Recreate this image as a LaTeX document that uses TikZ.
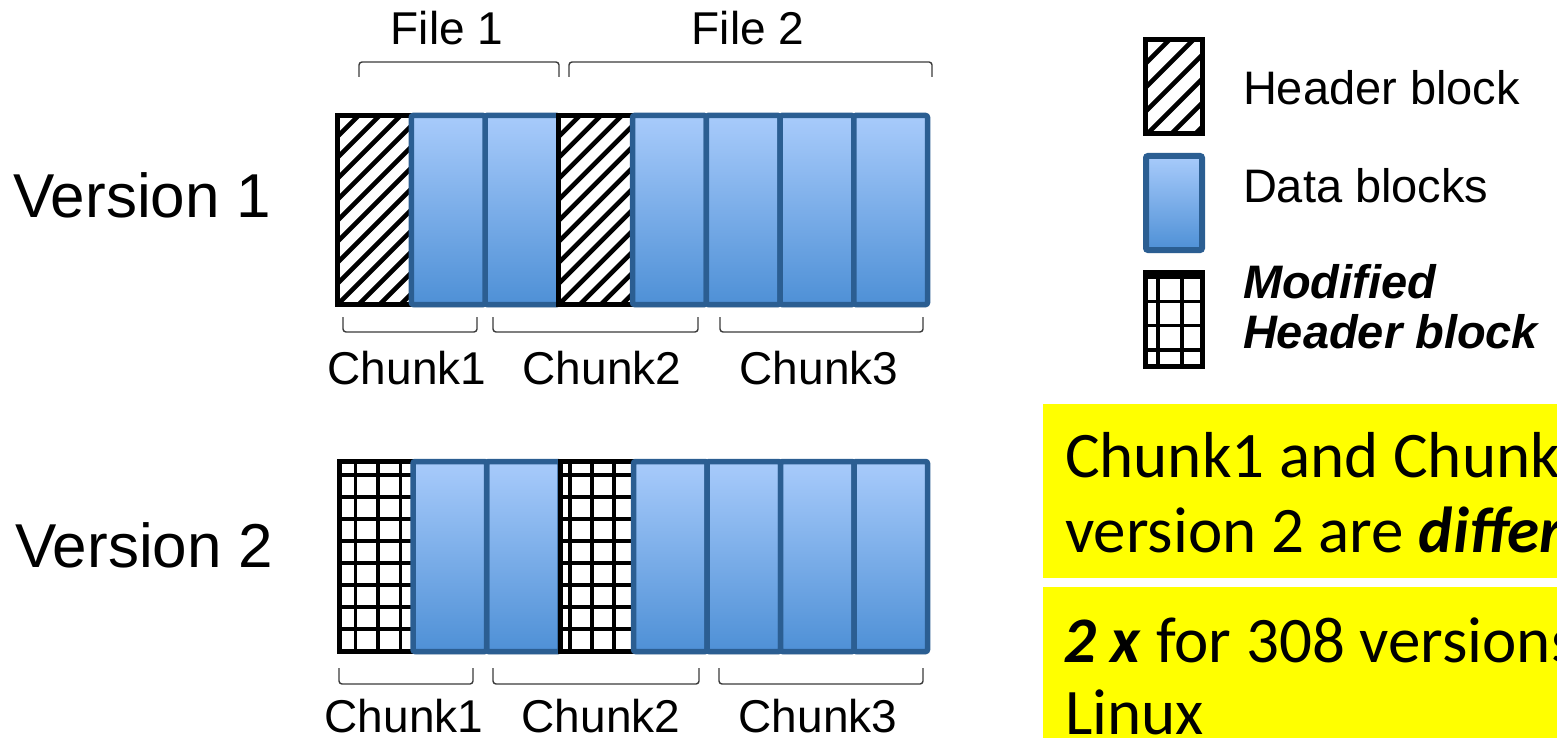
\documentclass[tikz,border=0pt]{standalone}
\usepackage{fontspec}
\setmainfont{Liberation Sans}
\newfontfamily\calib{Carlito}
\usetikzlibrary{shadows,calc}
\definecolor{dborder}{HTML}{2B5E92}
\definecolor{dtop}{HTML}{A8CBFB}
\definecolor{dbot}{HTML}{4E90D6}
\definecolor{brk}{HTML}{3A3A3A}
\definecolor{ybox}{HTML}{FFFF00}
\tikzset{
  blk/.style={rectangle, inner sep=0pt, outer sep=0pt},
  datablk/.style={blk, draw=dborder, line width=5.5pt, rounded corners=2pt,
    top color=dtop, bottom color=dbot,
    drop shadow={opacity=0.18, shadow xshift=1pt, shadow yshift=-3pt}},
  hatchblk/.style={blk, draw=black, line width=5pt, fill=white,
    path picture={\foreach \k in {0,...,22}{\draw[line width=4.6pt]
      ([xshift=-50pt,yshift={-(50+#1*\k)*1pt}]path picture bounding box.north west) -- ++(500,-500);}}},
  gridblk/.style n args={4}{blk, draw=black, line width=5pt, fill=white,
    path picture={\foreach \k in {0,...,10}{
      \draw[line width=3.2pt] ([xshift={(#1+#2*\k)*1pt}]path picture bounding box.north west) -- ++(0,400);
      \draw[line width=3.2pt] ([yshift={-(#3+#4*\k)*1pt}]path picture bounding box.north west) -- ++(400,0);}}},
  bracket/.style={draw=brk, line width=1.4pt, rounded corners=3pt},
  lbl/.style={inner sep=0pt, outer sep=0pt, anchor=base, text depth=0pt},
  lblw/.style={inner sep=0pt, outer sep=0pt, anchor=base west},
  bigfont/.style={font=\fontsize{62}{70}\selectfont},
  chunkfont/.style={font=\fontsize{46}{52}\selectfont},
  legfont/.style={font=\fontsize{47}{56}\selectfont},
  notefont/.style={font=\calib\fontsize{65}{75}\selectfont},
  notebox/.style={fill=ybox, inner sep=0pt, outer sep=0pt, anchor=north west}
}
\begin{document}
\begin{tikzpicture}[x=1pt,y=-1pt]
\useasboundingbox (0,0) rectangle (1557,738);
\clip (0,0) rectangle (1557,738);

% ---------- Version labels ----------
\node[lblw, bigfont] (ver1) at (13,217) {Version 1};
\node[lblw, bigfont] (ver2) at (15,567) {Version 2};

% ---------- File labels and brackets ----------
\node[lbl, chunkfont] (file1) at (447,45) {File 1};
\node[lbl, chunkfont] (file2) at (748,45) {File 2};
\draw[bracket] (359,77) -- (359,62) -- (559,62) -- (559,77);
\draw[bracket] (569,77) -- (569,62) -- (932,62) -- (932,77);

% ---------- Version 1 blocks ----------
\node[hatchblk=21, minimum width=73.75pt, minimum height=189pt] (v1h1) at (374.375,210) {};
\node[datablk, minimum width=73.75pt, minimum height=189pt] (v1d2) at (521.875,210) {};
\node[hatchblk=21, minimum width=73.75pt, minimum height=189pt] (v1h2) at (595.625,210) {};
\node[datablk, minimum width=73.75pt, minimum height=189pt] (v1d1) at (448.125,210) {};
\node[datablk, minimum width=73.75pt, minimum height=189pt] (v1d3) at (669.375,210) {};
\node[datablk, minimum width=73.75pt, minimum height=189pt] (v1d4) at (743.125,210) {};
\node[datablk, minimum width=73.75pt, minimum height=189pt] (v1d5) at (816.875,210) {};
\node[datablk, minimum width=73.75pt, minimum height=189pt] (v1d6) at (890.625,210) {};

\draw[bracket] (343,317) -- (343,332) -- (477,332) -- (477,317);
\draw[bracket] (493,317) -- (493,332) -- (698,332) -- (698,317);
\draw[bracket] (720,317) -- (720,332) -- (923,332) -- (923,317);
\node[lbl, chunkfont] (v1c1) at (407,384) {Chunk1};
\node[lbl, chunkfont] (v1c2) at (602,384) {Chunk2};
\node[lbl, chunkfont] (v1c3) at (819,384) {Chunk3};

% ---------- Version 2 blocks ----------
\node[gridblk={16}{22.5}{13.5}{22}, minimum width=73.5pt, minimum height=190pt] (v2h1) at (376.25,556.5) {};
\node[datablk, minimum width=73.5pt, minimum height=190pt] (v2d2) at (523.25,556.5) {};
\node[gridblk={10}{22}{13.5}{22}, minimum width=73.5pt, minimum height=190pt] (v2h2) at (596.75,556.5) {};
\node[datablk, minimum width=73.5pt, minimum height=190pt] (v2d1) at (449.75,556.5) {};
\node[datablk, minimum width=73.5pt, minimum height=190pt] (v2d3) at (670.25,556.5) {};
\node[datablk, minimum width=73.5pt, minimum height=190pt] (v2d4) at (743.75,556.5) {};
\node[datablk, minimum width=73.5pt, minimum height=190pt] (v2d5) at (817.25,556.5) {};
\node[datablk, minimum width=73.5pt, minimum height=190pt] (v2d6) at (890.75,556.5) {};

\draw[bracket] (339,668) -- (339,684) -- (473,684) -- (473,668);
\draw[bracket] (493,668) -- (493,684) -- (699,684) -- (699,668);
\draw[bracket] (719,668) -- (719,684) -- (923,684) -- (923,668);
\node[lbl, chunkfont] (v2c1) at (404,732) {Chunk1};
\node[lbl, chunkfont] (v2c2) at (601,732) {Chunk2};
\node[lbl, chunkfont] (v2c3) at (818,732) {Chunk3};

% ---------- Legend ----------
\node[hatchblk=24, minimum width=57pt, minimum height=94pt] (lgh) at (1174,86.5) {};
\node[datablk, line width=6pt, minimum width=56pt, minimum height=94pt] (lgd) at (1174,203) {};
\node[gridblk={12.5}{24}{4.5}{24.3}, minimum width=57pt, minimum height=94pt] (lgm) at (1174,319.5) {};
\node[lblw, legfont] (lt1) at (1243,105) {Header block};
\node[lblw, legfont] (lt2) at (1243,202) {Data blocks};
\node[lblw, legfont] (lt3) at (1243,298) {\bfseries\itshape Modified};
\node[lblw, legfont] (lt4) at (1243,348) {\bfseries\itshape Header block};

% ---------- Notes ----------
\node[notebox, minimum width=560pt, minimum height=174pt] (note1) at (1043,404) {};
\node[notebox, minimum width=560pt, minimum height=180pt] (note2) at (1043,587) {};
\node[lblw, notefont] (n1a) at (1065,477) {Chunk1 and Chunk2 in};
\node[lblw, notefont] (n1b) at (1065,552) {version 2 are \textbf{\textit{different}}};
\node[lblw, notefont] (n2a) at (1063,662) {\textbf{\textit{2 x}} for 308 versions of};
\node[lblw, notefont] (n2b) at (1065,734) {Linux};
\end{tikzpicture}
\end{document}
